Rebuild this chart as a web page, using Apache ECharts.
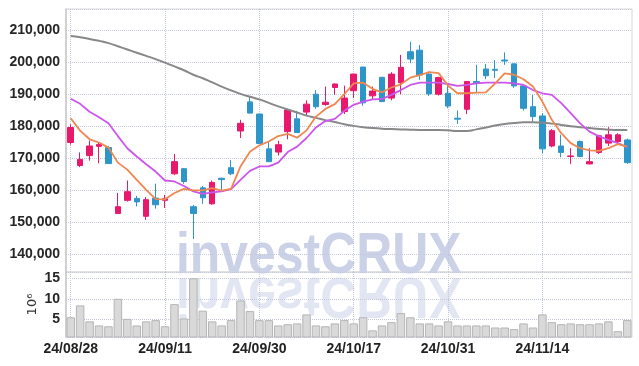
<!DOCTYPE html>
<html><head><meta charset="utf-8">
<script src="https://cdn.jsdelivr.net/npm/echarts/dist/echarts.min.js"></script>
<style>html,body{margin:0;padding:0;background:#fff}#c{width:639px;height:366px}</style>
</head><body><div id="c"></div>
<script>
const dates = ['24/08/28','24/08/29','24/08/30','24/09/02','24/09/03','24/09/04','24/09/05','24/09/06','24/09/09','24/09/10',
'24/09/11','24/09/12','24/09/13','24/09/19','24/09/20','24/09/23','24/09/24','24/09/25','24/09/26','24/09/27',
'24/09/30','24/10/02','24/10/04','24/10/07','24/10/08','24/10/10','24/10/11','24/10/14','24/10/15','24/10/16',
'24/10/17','24/10/18','24/10/21','24/10/22','24/10/23','24/10/24','24/10/25','24/10/28','24/10/29','24/10/30',
'24/10/31','24/11/01','24/11/04','24/11/05','24/11/06','24/11/07','24/11/08','24/11/11','24/11/12','24/11/13',
'24/11/14','24/11/15','24/11/18','24/11/19','24/11/20','24/11/21','24/11/22','24/11/25','24/11/26','24/11/27'];

const opens = [174900,167700,170800,173700,173300,152700,156800,157400,151800,157500,
156800,165100,166700,154800,160700,155700,163700,167000,178500,187600,
183800,172900,171900,178300,182300,184400,190000,186800,192100,184600,
191100,198500,189500,195300,188800,193600,203300,203800,196300,190000,
190300,182500,185300,194000,197900,197800,200700,199500,192600,186100,
183200,173800,173800,170500,175200,168200,171800,174700,175200,175700];
const closes = [179600,169600,173800,174300,168300,154800,159500,156300,157000,155400,
157300,168900,162700,152700,157600,162400,163300,165100,180900,184100,
174600,168900,174200,185100,178000,186900,186100,187500,193200,188800,
196300,187300,191000,187700,196300,198400,201000,196000,190100,195200,
186300,182200,194000,193400,195800,197500,200400,192600,185600,183000,
172900,178600,171800,170700,170500,168900,177000,177300,177300,168600];
const lows = [174200,167200,169200,168400,168300,152600,156400,154900,150700,154200,
154400,164700,162000,144700,155700,155400,159900,164700,176300,184000,
174500,168800,170800,175900,177900,183500,185400,186400,189800,183800,
188800,186400,188200,187500,188100,190000,199700,194500,189500,189600,
185600,180700,183800,190300,194700,195100,199200,192000,184900,181400,
171600,173400,170300,168200,170300,168100,171300,173800,174500,168200];
const highs = [180600,171800,175500,175000,173800,159100,163000,158200,157800,162000,
158500,171300,166900,155400,161300,163000,163900,169400,182000,189500,
183900,175400,175400,185400,184800,188100,191300,192400,193400,192700,
196400,198600,192400,195400,196900,202300,206400,205400,197100,195500,
193400,184900,194100,199200,199500,200700,203100,199600,192700,189800,
184100,179100,177300,173100,175500,173100,177300,179700,177800,176100];

const maShort = [182500,178600,175900,174900,173300,168600,166400,163200,160100,157200,
157100,159100,160400,159900,159900,160600,159800,160400,167400,172000,
174000,175200,176900,177600,176400,178700,183000,185400,186900,190000,
193400,193600,191700,190600,192100,193100,195200,196000,196900,196600,
192700,190300,190300,190500,190600,193400,196500,196100,194700,192400,
187700,182000,177800,174700,173100,172400,172300,173100,174400,173600];
const maMid = [188600,187000,184500,182800,180900,176900,173100,170500,168100,165800,
163000,162700,161300,159600,158800,159300,159600,160300,163200,166000,
167400,167400,168600,171900,173600,176300,179600,181600,182300,184800,
186700,187700,188400,188500,189800,191300,192900,193600,193600,193600,
193200,192600,192900,193400,193600,193600,193600,193400,192900,191300,
190300,189800,187200,184100,180900,178300,176800,175700,174700,173400];
const maLong = [208200,207800,207300,206700,206000,205000,204000,203000,202000,201000,
199900,198700,197500,196100,195000,193700,192400,191200,190100,189200,
188400,187300,186200,185200,184300,183300,182600,181900,181300,180600,
180100,179700,179400,179200,179100,179000,178900,178800,178800,178800,
178700,178500,178500,179000,179600,180200,180700,181000,181200,181200,
181100,180800,180400,180000,179700,179400,179100,178900,178800,178800];

// volume in millions of shares
const volumes = [5.5,8.4,4.5,3.5,3.3,10.0,5.1,3.5,4.5,4.8,
3.3,8.7,5.2,15.0,7.1,4.5,3.5,4.8,9.6,7.0,
4.8,4.8,3.5,3.8,4.0,6.2,3.5,3.3,4.0,4.8,
4.0,5.5,2.3,3.5,4.3,6.5,5.5,4.0,4.0,3.5,
4.5,3.5,3.5,3.5,3.5,3.0,3.0,2.6,4.0,3.0,
6.2,4.3,3.8,4.0,3.8,3.8,4.0,4.5,2.1,4.8];

const priceTicks = [140000,150000,160000,170000,180000,190000,200000,210000];
const volumeTicks = [5,10,15];

const FONT = "'Liberation Sans',Arial,sans-serif";
const candles = dates.map((d,i)=>[opens[i],closes[i],lows[i],highs[i]]);
const fmt = v => String(v).replace(/\B(?=(\d{3})+(?!\d))/g, ',');
const gridLine = {show:true, lineStyle:{type:'dotted', color:'#c3c8dc', width:1}};
const vSplit = {show:true, interval:9, alignWithLabel:true, lineStyle:{type:'dotted', color:'#c3c8dc', width:1}};

const chart = echarts.init(document.getElementById('c'));
chart.setOption({
  animation:false,
  backgroundColor:'#fff',
  grid:[
    {left:66, right:7, top:9, height:263, show:true, borderColor:'#d6d6d6', borderWidth:1, outerBoundsMode:'none', containLabel:false},
    {left:66, right:7, top:272, height:65, show:true, borderColor:'#d6d6d6', borderWidth:1, outerBoundsMode:'none', containLabel:false}
  ],
  graphic:[
    {type:'text', x:176, y:275, scaleX:0.86, z:0, silent:true,
     style:{x:0, y:-18, text:'investCRUX', textVerticalAlign:'middle', fill:'#cbd1e7', font:"bold 58px 'Liberation Sans', Arial, sans-serif"}},
    {type:'text', x:176, y:276, scaleX:0.86, scaleY:-1, z:0, silent:true,
     style:{x:0, y:-18, text:'investCRUX', textVerticalAlign:'middle', fill:'#cbd1e7', opacity:0.55, font:"bold 58px 'Liberation Sans', Arial, sans-serif"}}
  ],
  xAxis:[
    {type:'category', data:dates, gridIndex:0, axisLine:{show:false}, axisTick:{show:false}, axisLabel:{show:false}, splitLine:vSplit},
    {type:'category', data:dates, gridIndex:1, axisLine:{show:false}, axisTick:{show:false},
     axisLabel:{interval:9, color:'#222', fontSize:14, fontWeight:'bold', fontFamily:FONT, margin:5}, splitLine:vSplit}
  ],
  yAxis:[
    {type:'value', gridIndex:0, min:134370, max:216670, splitNumber:8,
     axisLine:{show:true, lineStyle:{color:'#c8c8c8', width:1.5}}, axisTick:{show:false},
     axisLabel:{showMinLabel:false, showMaxLabel:false, margin:6, color:'#262626', fontSize:14, fontWeight:'bold', fontFamily:FONT,
       formatter: v => priceTicks.includes(Math.round(v)) ? fmt(Math.round(v)) : ''},
     splitLine:gridLine},
    {type:'value', gridIndex:1, min:0.68, max:16.54, splitNumber:3,
     name:'10⁶', nameLocation:'middle', nameRotate:90, nameGap:27, nameMoveOverlap:false,
     nameTextStyle:{color:'#333', fontSize:13, fontFamily:'DejaVu Sans'},
     axisLine:{show:true, lineStyle:{color:'#c8c8c8', width:1.5}}, axisTick:{show:false},
     axisLabel:{showMinLabel:false, showMaxLabel:false, margin:6, color:'#262626', fontSize:14, fontWeight:'bold', fontFamily:FONT,
       formatter: v => volumeTicks.includes(Math.round(v*100)/100) ? String(Math.round(v)) : ''},
     splitLine:gridLine}
  ],
  series:[
    {type:'candlestick', xAxisIndex:0, yAxisIndex:0, data:candles, barWidth:6,
     itemStyle:{color:'#e8186c', color0:'#2e95c9', borderColor:'#e8186c', borderColor0:'#2e95c9', borderWidth:1}},
    {type:'line', xAxisIndex:0, yAxisIndex:0, data:maLong, smooth:true, showSymbol:false,
     lineStyle:{color:'#888888', width:2}},
    {type:'line', xAxisIndex:0, yAxisIndex:0, data:maMid, showSymbol:false,
     lineStyle:{color:'#cc55ec', width:1.8}},
    {type:'line', xAxisIndex:0, yAxisIndex:0, data:maShort, showSymbol:false,
     lineStyle:{color:'#ef8750', width:1.8}},
    {type:'bar', xAxisIndex:1, yAxisIndex:1, data:volumes, barCategoryGap:'10%',
     itemStyle:{color:'#d9d9d9', borderColor:'#b5b5b5', borderWidth:1}}
  ]
});
</script></body></html>
